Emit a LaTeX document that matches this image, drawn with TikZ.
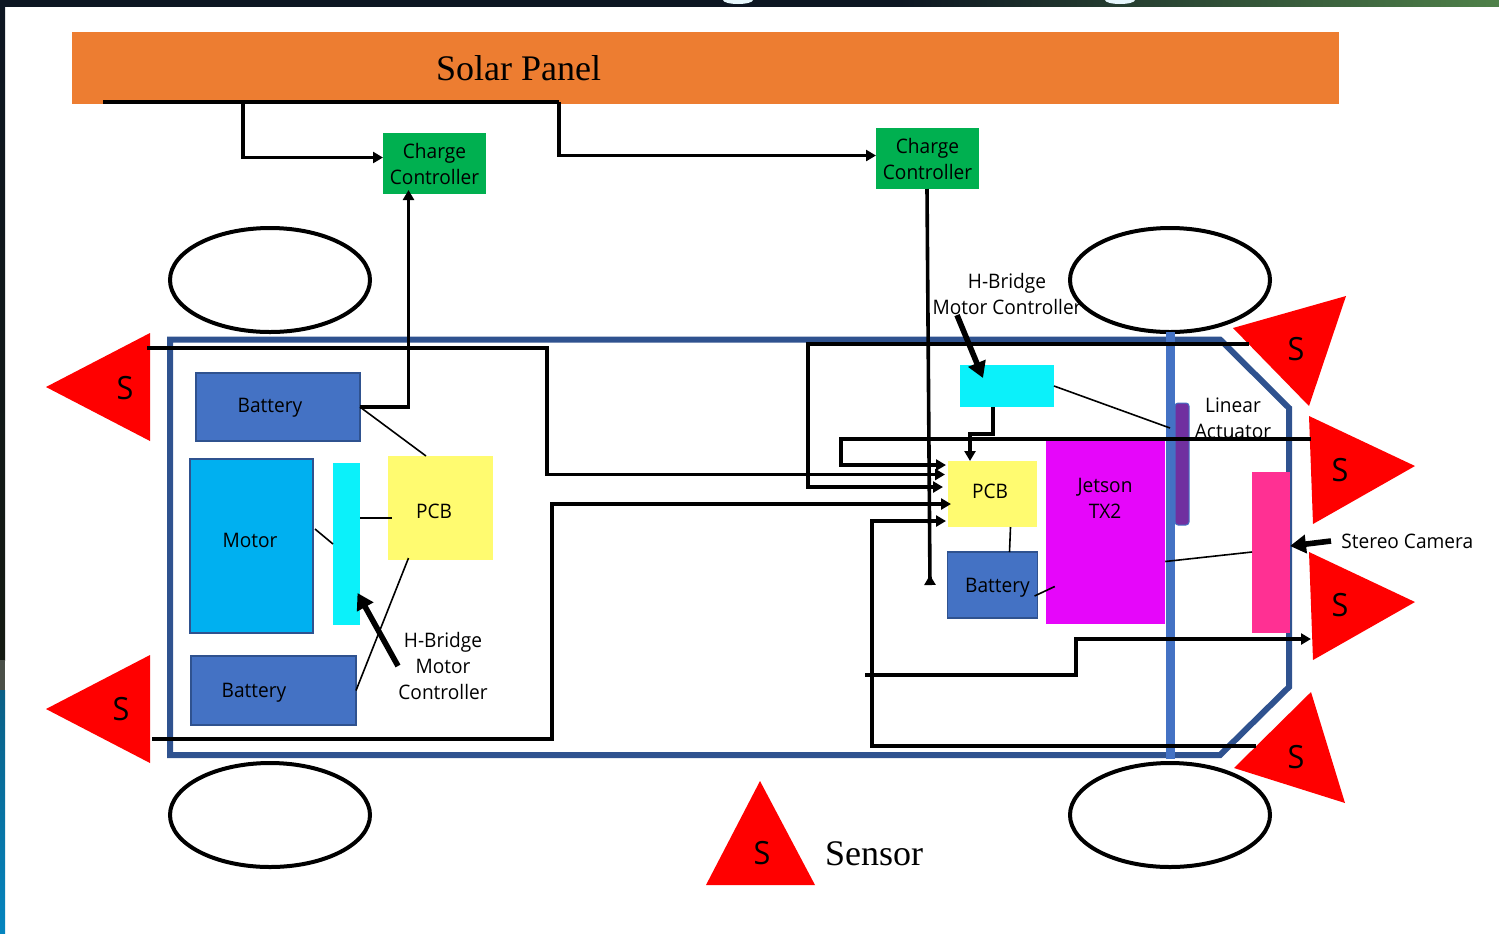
\documentclass[tikz,border=0pt]{standalone}
\usepackage{fontspec}
\setmainfont{Open Sans}[FakeStretch=0.955]
\newfontfamily\panelfont{Liberation Serif}
\usepackage{xcolor}
\usetikzlibrary{shapes.geometric,arrows.meta,calc}
\definecolor{panelor}{HTML}{ED7D31}
\definecolor{ctrlgn}{HTML}{00B050}
\definecolor{bodybl}{HTML}{2F528F}
\definecolor{axlebl}{HTML}{4472C4}
\definecolor{motorbl}{HTML}{00B0F0}
\definecolor{hbrcy}{HTML}{0BF1FA}
\definecolor{pcbyl}{HTML}{FFFB70}
\definecolor{jetmg}{HTML}{E606FA}
\definecolor{campk}{HTML}{FF3093}
\definecolor{actpp}{HTML}{7030A0}
\definecolor{darkbar}{HTML}{0D1622}
\definecolor{darkbot}{HTML}{141A12}
\definecolor{greybar}{HTML}{4A4F48}
\definecolor{greenbar}{HTML}{4F8149}
\definecolor{bluebar}{HTML}{0A5F85}
\definecolor{bluebot}{HTML}{0585BF}
\tikzset{
  bx/.style    = {rectangle, inner sep=0pt, outer sep=0pt, align=center,
                  font=\fontsize{10}{13}\selectfont},
  ctrl/.style  = {bx, fill=ctrlgn},
  batt/.style  = {bx, draw=bodybl, fill=axlebl, line width=0.75pt},
  motr/.style  = {bx, draw=bodybl, fill=motorbl, line width=0.75pt},
  hbrg/.style  = {bx, fill=hbrcy},
  pcbb/.style  = {bx, fill=pcbyl},
  jets/.style  = {bx, fill=jetmg},
  camr/.style  = {bx, fill=campk},
  actr/.style  = {bx, draw=axlebl, fill=actpp, line width=0.5pt, rounded corners=1.5pt},
  wheel/.style = {ellipse, draw=black, line width=2pt, fill=white, inner sep=0pt, outer sep=0pt,
                  minimum width=100pt, minimum height=52pt},
  sens/.style  = {fill=red},
  slbl/.style  = {inner sep=0pt, font=\fontsize{16}{16}\selectfont},
  lbl/.style   = {inner sep=0pt, align=center, font=\fontsize{10}{13}\selectfont},
  serf/.style  = {inner sep=0pt, font=\panelfont\fontsize{18}{18}\selectfont},
  fl/.style    = {-{Triangle[length=5pt,width=5.5pt]}, line width=1.8pt, black},
  pl/.style    = {line width=1.8pt, black},
  thn/.style   = {line width=0.8pt, black},
  thk/.style   = {-{Triangle[length=8pt,width=9pt]}, line width=2.8pt, black},
}
\begin{document}
\begin{tikzpicture}[x=0.5pt,y=-0.5pt]
  \useasboundingbox (0,0) rectangle (1499,933);

  % window behind the slide
  \fill[darkbar] (0,0) rectangle (901,6.5);
  \shade[left color=darkbar, right color=greenbar] (900,0) rectangle (1499,6.5);
  \shade[top color=darkbar, bottom color=darkbot] (0,0) rectangle (5,660);
  \fill[greybar] (0,660) rectangle (5,691);
  \shade[top color=bluebar, bottom color=bluebot] (0,690) rectangle (5,933);
  \fill[white!90!cyan] (753,0) arc[start angle=0, end angle=180, x radius=15, y radius=4] -- cycle;
  \fill[white!90!cyan] (1135,0) arc[start angle=0, end angle=180, x radius=15, y radius=4] -- cycle;

  \node[bx, fill=panelor, minimum width=633.5pt, minimum height=36pt] (panel) at (705.5,68) {};
  \node[serf] (panellbl) at (518.5,68) {Solar Panel};
  \node[ctrl, minimum width=51.5pt, minimum height=30.5pt] (ccL) at (434.5,163.5) {Charge\\Controller};
  \node[ctrl, minimum width=51.5pt, minimum height=30.5pt] (ccR) at (927.5,158.5) {Charge\\Controller};

  \node[wheel] (whTL) at (270,280) {};
  \node[wheel] (whTR) at (1170,280) {};
  \node[wheel] (whBL) at (270,815) {};
  \node[wheel] (whBR) at (1170,815) {};

  % car body and axle
  \draw[bodybl, line width=3pt] (170,339.5) -- (1220,339.5) -- (1289,408) -- (1289,687)
    -- (1220,755) -- (170,755) -- cycle;
  \draw[axlebl, line width=4.5pt] (whTR.south) -- ([yshift=2pt]whBR.north);

  % left side
  \node[batt, minimum width=82pt, minimum height=34pt] (batA) at (278,407) {};
  \node[lbl] (batAlbl) at (270,408) {Battery};
  \node[motr, minimum width=61.5pt, minimum height=87pt] (motor) at (251.5,546) {};
  \node[lbl] (motorlbl) at (250,540) {Motor};
  \node[hbrg, minimum width=13.5pt, minimum height=81pt] (hbL) at (346.5,544) {};
  \node[pcbb, minimum width=52.5pt, minimum height=52pt] (pcbL) at (440.5,508) {};
  \node[lbl] (pcbLlbl) at (434,511) {PCB};
  \node[batt, minimum width=82.5pt, minimum height=34.5pt] (batB) at (273.5,690.5) {};
  \node[lbl] (batBlbl) at (254,693) {Battery};
  \node[lbl] (hbLlbl) at (443,666) {H-Bridge\\Motor\\Controller};

  % right side
  \node[hbrg, minimum width=47pt, minimum height=21pt] (hbR) at (1007,386) {};
  \node[lbl] (hbRlbl) at (1007,294) {H-Bridge\\Motor Controller};
  \node[pcbb, minimum width=44.5pt, minimum height=33pt] (pcbR) at (992.5,494) {};
  \node[lbl] (pcbRlbl) at (990,491) {PCB};
  \node[batt, minimum width=45pt, minimum height=33pt] (batR) at (992.5,585) {};
  \node[lbl] (batRlbl) at (997.5,588) {Battery};
  \node[jets, minimum width=59.75pt, minimum height=91.5pt] (jetson) at (1105.5,532.5) {};
  \node[lbl] (jetsonlbl) at (1105,498) {Jetson\\TX2};
  \node[actr, minimum width=7pt, minimum height=61pt] (actu) at (1182,464) {};
  \node[lbl] (actulbl) at (1233,418) {Linear\\Actuator};
  \node[camr, minimum width=19pt, minimum height=80.5pt] (camera) at (1271,552) {};
  \node[lbl, anchor=west] (camlbl) at (1341,541) {Stereo Camera};

  % sensors
  \fill[sens] (46,387) -- (150,333) -- (150,441) -- cycle;
  \fill[sens] (46,709) -- (150,655) -- (150,763) -- cycle;
  \fill[sens] (1346,296) -- (1233,328) -- (1309,406) -- cycle;
  \fill[sens] (1309,416) -- (1415,466) -- (1313,524) -- cycle;
  \fill[sens] (1309,552) -- (1415,602) -- (1313,660) -- cycle;
  \fill[sens] (1311,692) -- (1234,768) -- (1345,803) -- cycle;
  \fill[sens] (760,781) -- (706,885) -- (815,885) -- cycle;
  \node[slbl] (sA) at (125,388) {S};
  \node[slbl] (sB) at (121,709) {S};
  \node[slbl] (sC) at (1296,349) {S};
  \node[slbl] (sD) at (1340,470) {S};
  \node[slbl] (sE) at (1340,605) {S};
  \node[slbl] (sF) at (1296,757) {S};
  \node[slbl] (sG) at (762,853) {S};
  \node[serf] (senslbl) at (874,854) {Sensor};

  \coordinate (busL) at (103,102);
  \coordinate (busM) at (243,102);
  \coordinate (busR) at (559,102);
  \coordinate (sAend) at (147,348);
  \coordinate (sBend) at (152,739);
  \coordinate (sCend) at (1249,344);
  \coordinate (sDend) at (1311,439);
  \coordinate (sFend) at (1256,746);
  \coordinate (sEin) at (1311,639);
  \coordinate (looseL) at (865,675);
  \coordinate (ccRend) at (930,585);

  % power lines
  \draw[pl] (busL) -- (busR);
  \draw[fl] (busM) |- ([yshift=3pt]ccL.west);
  \draw[fl] (busR) |- ([yshift=1.5pt]ccR.west);
  \draw[fl, shorten >=-2pt] (batA.east) -| ([xshift=-13pt]ccL.south);
  \draw[pl, -{Triangle[reversed, length=5pt, width=5.5pt]}] (ccR.south -| 927,0) -- (ccRend);

  % sensor lines
  \draw[fl] (sAend) -- (547,348) -- (547,474.5) -- ([yshift=9.75pt,xshift=-1.5pt]pcbR.west);
  \draw[fl] (sBend) -- (552,739) -- (552,504) -- ([yshift=-5pt,xshift=1.5pt]pcbR.west);
  \draw[fl] (sCend) -- (808,344) -- (808,487) -- ([yshift=3.5pt,xshift=-2.5pt]pcbR.west);
  \draw[fl] (sDend) -- (841,439) -- (841,465) -- ([yshift=14.5pt,xshift=-1pt]pcbR.west);
  \draw[fl] (sFend) -- (872,746) -- (872,521) -- ([yshift=-13.5pt,xshift=-1pt]pcbR.west);
  \draw[fl] (looseL) -- (1076,675) -- (1076,639) -- (sEin);
  \draw[fl] ([xshift=-7pt]hbR.south) -- ++(0,27) -| ([xshift=-11.25pt]pcbR.north);

  % thin links
  \draw[thn] (batA.east) -- ([xshift=-7.25pt]pcbL.north);
  \draw[thn] ([yshift=13pt]hbL.east) -- ([yshift=-5pt,xshift=2pt]pcbL.west);
  \draw[thn] ([xshift=1pt,yshift=8.5pt]motor.east) -- (hbL.west);
  \draw[thn] (batB.east) -- ([xshift=-16pt,yshift=1pt]pcbL.south);
  \draw[thn] (hbR.east) -- ([xshift=-2.5pt,yshift=18pt]actu.west);
  \draw[thn] ([xshift=9pt]pcbR.south) -- ([xshift=8.5pt]batR.north);
  \draw[thn] ([xshift=-1.5pt,yshift=-5.5pt]batR.east) -- ([xshift=4.5pt,yshift=-27pt]jetson.west);
  \draw[thn] ([yshift=-14.5pt]jetson.east) -- (camera.west);

  % callouts
  \draw[thk] ([xshift=-25pt]hbRlbl.south) -- ([xshift=-12pt,yshift=4pt]hbR.center);
  \draw[thk] (hbLlbl.west) -- ([xshift=5.5pt,yshift=-24.5pt]hbL.center);
  \draw[thk] ([xshift=-5pt]camlbl.west) -- ([yshift=3pt]camera.east);

\end{tikzpicture}
\end{document}
